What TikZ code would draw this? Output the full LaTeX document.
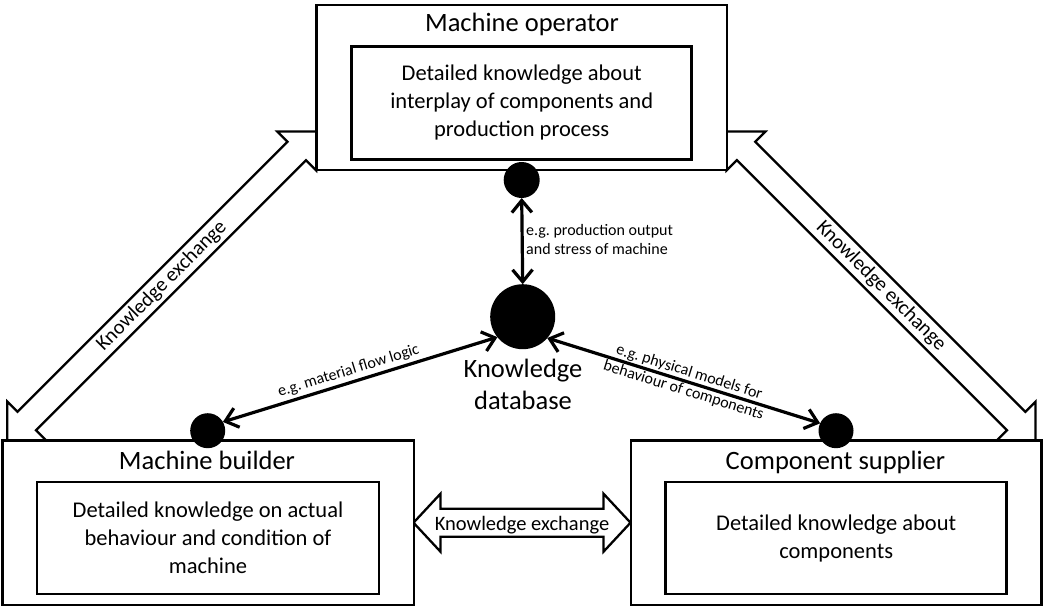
\documentclass[tikz,border=0pt]{standalone}
\usepackage{fontspec}
\setmainfont{Carlito}
\usetikzlibrary{arrows.meta}
\frenchspacing
\tikzset{
  pics/blockarrow/.style args={#1/#2/#3/#4}{% half length / head length / head half width / shaft half width
    code={\draw[fat] (#1,0) -- (#1-#2,#3) -- (#1-#2,#4) -- (-#1+#2,#4) -- (-#1+#2,#3) -- (-#1,0)
      -- (-#1+#2,-#3) -- (-#1+#2,-#4) -- (#1-#2,-#4) -- (#1-#2,-#3) -- cycle;}}
}
\begin{document}
\begin{tikzpicture}[x=1pt,y=-1pt,
  box/.style={draw, line width=2.6pt, fill=white, inner sep=0pt, outer sep=0pt},
  body/.style={box, align=center, font=\fontsize{22.5}{28}\selectfont},
  title/.style={inner sep=0pt, anchor=base, font=\fontsize{26.5}{32}\selectfont},
  exch/.style={inner sep=0pt, font=\fontsize{20.5}{24}\selectfont},
  note/.style={inner sep=0pt, font=\fontsize{16}{19}\selectfont},
  fat/.style={draw, line width=2.3pt, fill=white, line join=miter},
  dot/.style={circle, fill=black, inner sep=0pt, outer sep=0pt},
  link/.style={line width=3.2pt, {Straight Barb[length=12pt,width=20pt]}-{Straight Barb[length=12pt,width=20pt]}},
]
\useasboundingbox (0,0) rectangle (1043,607);

% knowledge exchange block arrows between the parties
\pic[rotate=45]  at (161.75,286) {blockarrow=218.5/27.5/27.5/13};
\pic[rotate=-45] at (881,286)    {blockarrow=218.5/27.5/27.5/13};
\pic             at (522,522.7)  {blockarrow=108.5/27/29/14};

\node[exch, rotate=45]  (kx1) at (161.75,286) {Knowledge exchange};
\node[exch, rotate=-45] (kx2) at (881,286)    {Knowledge exchange};
\node[exch, anchor=base] (kx3) at (522,530.5) {Knowledge exchange};

% parties
\node[box, minimum width=410.5pt, minimum height=165pt] (op) at (521.75,87.5) {};
\node[body, minimum width=340pt, minimum height=112.6pt] (opk) at (521.7,103)
  {Detailed knowledge about\\interplay of components and\\production process};
\node[title] (opt) at (522,32) {Machine operator};

\node[box, minimum width=411.3pt, minimum height=164.3pt] (mb) at (208.35,522.85) {};
\node[body, minimum width=342pt, minimum height=112pt] (mbk) at (208,538)
  {Detailed knowledge on actual\\behaviour and condition of\\machine};
\node[title] (mbt) at (207,469) {Machine builder};

\node[box, minimum width=410.5pt, minimum height=164.3pt] (cs) at (836.25,522.85) {};
\node[body, minimum width=341pt, minimum height=112pt] (csk) at (836.2,538)
  {Detailed knowledge about\\components};
\node[title] (cst) at (835.5,469) {Component supplier};

% knowledge database and access points
\node[dot, minimum size=65pt] (db) at (522.7,316.7) {};
\node[dot, minimum size=36pt] (tc) at (521.7,180) {};
\node[dot, minimum size=35pt] (lb) at (207.7,430.7) {};
\node[dot, minimum size=35pt] (rb) at (836,430.7) {};
\node[title, anchor=center, align=center] (dbt) at (523,384.7)
  {Knowledge\\database};

% data flows
\draw[link] (tc.south) -- (db.north);
\node[note, anchor=north west, align=left] (tcl) at (526,223.8)
  {e.g. production output\\and stress of machine};
\draw[link] (lb.30) -- node[note, pos=0.47, sloped, above, inner sep=3pt] (lbl) {e.g. material flow logic} (db.219);
\draw[link] (db.-41) -- node[note, pos=0.51, sloped, align=center] (rbl)
  {e.g. physical models for\\behaviour of components} (rb.155);
\end{tikzpicture}
\end{document}
